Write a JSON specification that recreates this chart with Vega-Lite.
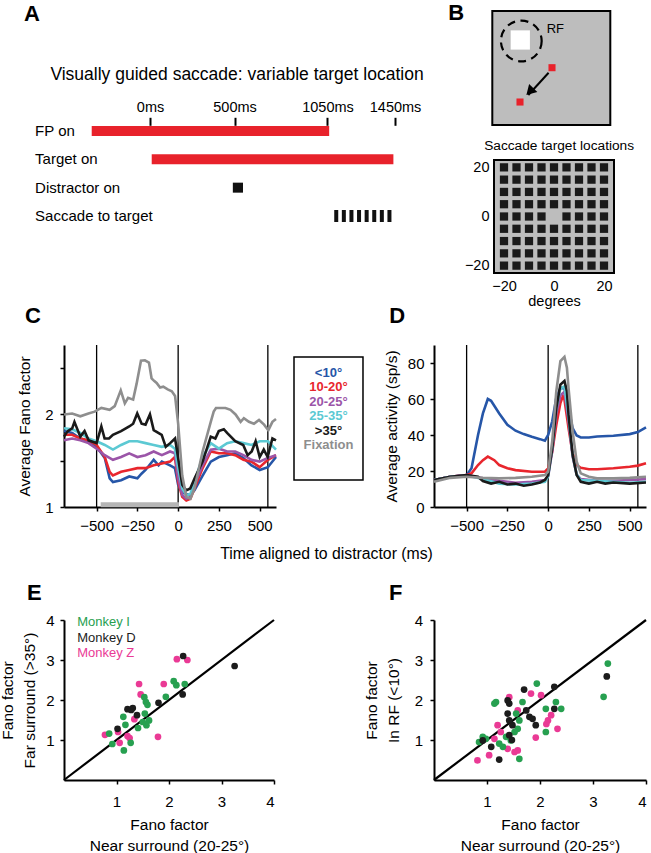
{
  "$schema": "https://vega.github.io/schema/vega-lite/v6.json",
  "background": "white",
  "padding": {"left": 0, "top": 2, "right": 0, "bottom": 0},
  "config": {
    "font": "Liberation Sans",
    "view": {"stroke": null},
    "axis": {"labelColor": "black", "titleColor": "black", "domainColor": "black", "tickColor": "black", "grid": false, "labelFontSize": 15, "titleFontSize": 15.5, "titleFontWeight": "normal", "domainWidth": 2, "tickWidth": 1.5, "tickSize": 4},
    "title": {"fontSize": 22, "fontWeight": "bold", "anchor": "start", "frame": "group", "offset": 0, "color": "black"}
  },
  "datasets": {
    "fano": [
      {"s":"<10°","t":-700,"v":1.82},{"s":"<10°","t":-650,"v":1.80},{"s":"<10°","t":-600,"v":1.74},{"s":"<10°","t":-550,"v":1.71},{"s":"<10°","t":-500,"v":1.65},{"s":"<10°","t":-450,"v":1.53},{"s":"<10°","t":-420,"v":1.31},{"s":"<10°","t":-400,"v":1.27},{"s":"<10°","t":-350,"v":1.29},{"s":"<10°","t":-300,"v":1.33},{"s":"<10°","t":-250,"v":1.31},{"s":"<10°","t":-225,"v":1.36},{"s":"<10°","t":-200,"v":1.40},{"s":"<10°","t":-150,"v":1.51},{"s":"<10°","t":-120,"v":1.45},{"s":"<10°","t":-100,"v":1.49},{"s":"<10°","t":-50,"v":1.45},{"s":"<10°","t":-20,"v":1.42},{"s":"<10°","t":0,"v":1.24},{"s":"<10°","t":25,"v":1.16},{"s":"<10°","t":50,"v":1.14},{"s":"<10°","t":75,"v":1.13},{"s":"<10°","t":100,"v":1.18},{"s":"<10°","t":150,"v":1.34},{"s":"<10°","t":200,"v":1.49},{"s":"<10°","t":250,"v":1.54},{"s":"<10°","t":300,"v":1.56},{"s":"<10°","t":350,"v":1.58},{"s":"<10°","t":400,"v":1.53},{"s":"<10°","t":450,"v":1.45},{"s":"<10°","t":500,"v":1.40},{"s":"<10°","t":550,"v":1.43},{"s":"<10°","t":600,"v":1.54},
      {"s":"10-20°","t":-700,"v":1.78},{"s":"10-20°","t":-650,"v":1.78},{"s":"10-20°","t":-600,"v":1.74},{"s":"10-20°","t":-550,"v":1.72},{"s":"10-20°","t":-500,"v":1.67},{"s":"10-20°","t":-450,"v":1.54},{"s":"10-20°","t":-420,"v":1.38},{"s":"10-20°","t":-400,"v":1.34},{"s":"10-20°","t":-350,"v":1.38},{"s":"10-20°","t":-300,"v":1.40},{"s":"10-20°","t":-250,"v":1.42},{"s":"10-20°","t":-200,"v":1.42},{"s":"10-20°","t":-150,"v":1.45},{"s":"10-20°","t":-100,"v":1.47},{"s":"10-20°","t":-50,"v":1.49},{"s":"10-20°","t":-20,"v":1.54},{"s":"10-20°","t":0,"v":1.27},{"s":"10-20°","t":25,"v":1.11},{"s":"10-20°","t":50,"v":1.07},{"s":"10-20°","t":75,"v":1.09},{"s":"10-20°","t":100,"v":1.20},{"s":"10-20°","t":150,"v":1.42},{"s":"10-20°","t":200,"v":1.60},{"s":"10-20°","t":250,"v":1.58},{"s":"10-20°","t":300,"v":1.58},{"s":"10-20°","t":350,"v":1.56},{"s":"10-20°","t":400,"v":1.51},{"s":"10-20°","t":450,"v":1.49},{"s":"10-20°","t":500,"v":1.43},{"s":"10-20°","t":550,"v":1.51},{"s":"10-20°","t":600,"v":1.56},
      {"s":"20-25°","t":-700,"v":1.72},{"s":"20-25°","t":-650,"v":1.74},{"s":"20-25°","t":-600,"v":1.72},{"s":"20-25°","t":-550,"v":1.69},{"s":"20-25°","t":-500,"v":1.63},{"s":"20-25°","t":-450,"v":1.56},{"s":"20-25°","t":-400,"v":1.51},{"s":"20-25°","t":-350,"v":1.54},{"s":"20-25°","t":-300,"v":1.58},{"s":"20-25°","t":-250,"v":1.54},{"s":"20-25°","t":-200,"v":1.56},{"s":"20-25°","t":-150,"v":1.60},{"s":"20-25°","t":-100,"v":1.56},{"s":"20-25°","t":-50,"v":1.60},{"s":"20-25°","t":-20,"v":1.58},{"s":"20-25°","t":0,"v":1.31},{"s":"20-25°","t":25,"v":1.13},{"s":"20-25°","t":50,"v":1.09},{"s":"20-25°","t":75,"v":1.11},{"s":"20-25°","t":100,"v":1.24},{"s":"20-25°","t":150,"v":1.45},{"s":"20-25°","t":200,"v":1.62},{"s":"20-25°","t":250,"v":1.63},{"s":"20-25°","t":300,"v":1.60},{"s":"20-25°","t":350,"v":1.60},{"s":"20-25°","t":400,"v":1.56},{"s":"20-25°","t":450,"v":1.51},{"s":"20-25°","t":500,"v":1.49},{"s":"20-25°","t":550,"v":1.53},{"s":"20-25°","t":600,"v":1.56},
      {"s":"25-35°","t":-700,"v":1.85},{"s":"25-35°","t":-650,"v":1.84},{"s":"25-35°","t":-600,"v":1.80},{"s":"25-35°","t":-550,"v":1.74},{"s":"25-35°","t":-500,"v":1.71},{"s":"25-35°","t":-450,"v":1.67},{"s":"25-35°","t":-400,"v":1.62},{"s":"25-35°","t":-350,"v":1.67},{"s":"25-35°","t":-300,"v":1.71},{"s":"25-35°","t":-250,"v":1.71},{"s":"25-35°","t":-200,"v":1.69},{"s":"25-35°","t":-150,"v":1.67},{"s":"25-35°","t":-100,"v":1.65},{"s":"25-35°","t":-50,"v":1.67},{"s":"25-35°","t":-20,"v":1.63},{"s":"25-35°","t":0,"v":1.42},{"s":"25-35°","t":25,"v":1.20},{"s":"25-35°","t":50,"v":1.13},{"s":"25-35°","t":75,"v":1.14},{"s":"25-35°","t":100,"v":1.27},{"s":"25-35°","t":150,"v":1.54},{"s":"25-35°","t":200,"v":1.69},{"s":"25-35°","t":250,"v":1.63},{"s":"25-35°","t":300,"v":1.69},{"s":"25-35°","t":350,"v":1.71},{"s":"25-35°","t":400,"v":1.69},{"s":"25-35°","t":450,"v":1.67},{"s":"25-35°","t":500,"v":1.71},{"s":"25-35°","t":550,"v":1.71},{"s":"25-35°","t":600,"v":1.62},
      {"s":">35°","t":-700,"v":1.76},{"s":">35°","t":-677,"v":1.82},{"s":">35°","t":-650,"v":1.85},{"s":">35°","t":-636,"v":1.92},{"s":">35°","t":-600,"v":1.76},{"s":">35°","t":-574,"v":1.82},{"s":">35°","t":-549,"v":1.72},{"s":">35°","t":-500,"v":1.69},{"s":">35°","t":-471,"v":1.87},{"s":">35°","t":-451,"v":1.74},{"s":">35°","t":-424,"v":1.74},{"s":">35°","t":-400,"v":1.78},{"s":">35°","t":-350,"v":1.82},{"s":">35°","t":-300,"v":1.87},{"s":">35°","t":-276,"v":1.90},{"s":">35°","t":-251,"v":2.01},{"s":">35°","t":-224,"v":1.90},{"s":">35°","t":-200,"v":1.89},{"s":">35°","t":-173,"v":2.00},{"s":">35°","t":-150,"v":1.83},{"s":">35°","t":-101,"v":1.78},{"s":">35°","t":-76,"v":1.65},{"s":">35°","t":-49,"v":1.69},{"s":">35°","t":-19,"v":1.74},{"s":">35°","t":0,"v":1.53},{"s":">35°","t":25,"v":1.24},{"s":">35°","t":49,"v":1.18},{"s":">35°","t":74,"v":1.20},{"s":">35°","t":101,"v":1.31},{"s":">35°","t":150,"v":1.49},{"s":">35°","t":200,"v":1.76},{"s":">35°","t":228,"v":1.74},{"s":">35°","t":249,"v":1.82},{"s":">35°","t":280,"v":1.84},{"s":">35°","t":300,"v":1.80},{"s":">35°","t":350,"v":1.71},{"s":">35°","t":399,"v":1.67},{"s":">35°","t":426,"v":1.56},{"s":">35°","t":451,"v":1.60},{"s":">35°","t":475,"v":1.71},{"s":">35°","t":500,"v":1.54},{"s":">35°","t":525,"v":1.62},{"s":">35°","t":549,"v":1.54},{"s":">35°","t":578,"v":1.74},{"s":">35°","t":600,"v":1.72},
      {"s":"Fixation","t":-700,"v":2.00},{"s":"Fixation","t":-650,"v":2.01},{"s":"Fixation","t":-600,"v":1.98},{"s":"Fixation","t":-550,"v":2.01},{"s":"Fixation","t":-512,"v":2.03},{"s":"Fixation","t":-471,"v":2.07},{"s":"Fixation","t":-420,"v":2.05},{"s":"Fixation","t":-389,"v":2.09},{"s":"Fixation","t":-352,"v":2.26},{"s":"Fixation","t":-327,"v":2.12},{"s":"Fixation","t":-307,"v":2.18},{"s":"Fixation","t":-276,"v":2.16},{"s":"Fixation","t":-255,"v":2.33},{"s":"Fixation","t":-228,"v":2.58},{"s":"Fixation","t":-204,"v":2.585},{"s":"Fixation","t":-179,"v":2.56},{"s":"Fixation","t":-163,"v":2.39},{"s":"Fixation","t":-146,"v":2.36},{"s":"Fixation","t":-132,"v":2.34},{"s":"Fixation","t":-111,"v":2.29},{"s":"Fixation","t":-91,"v":2.30},{"s":"Fixation","t":-64,"v":2.27},{"s":"Fixation","t":-39,"v":2.25},{"s":"Fixation","t":-19,"v":2.20},{"s":"Fixation","t":0,"v":1.90},{"s":"Fixation","t":25,"v":1.34},{"s":"Fixation","t":50,"v":1.11},{"s":"Fixation","t":75,"v":1.09},{"s":"Fixation","t":100,"v":1.20},{"s":"Fixation","t":150,"v":1.60},{"s":"Fixation","t":200,"v":1.92},{"s":"Fixation","t":218,"v":2.03},{"s":"Fixation","t":232,"v":2.07},{"s":"Fixation","t":265,"v":2.07},{"s":"Fixation","t":290,"v":2.07},{"s":"Fixation","t":321,"v":2.05},{"s":"Fixation","t":352,"v":2.00},{"s":"Fixation","t":383,"v":1.92},{"s":"Fixation","t":403,"v":1.96},{"s":"Fixation","t":434,"v":1.92},{"s":"Fixation","t":465,"v":1.90},{"s":"Fixation","t":496,"v":1.94},{"s":"Fixation","t":527,"v":1.89},{"s":"Fixation","t":553,"v":1.83},{"s":"Fixation","t":578,"v":1.92},{"s":"Fixation","t":600,"v":1.95}
    ],
    "rate": [
      {"s":"<10°","t":-700,"v":15},{"s":"<10°","t":-600,"v":16.8},{"s":"<10°","t":-500,"v":17.7},{"s":"<10°","t":-470,"v":21.5},{"s":"<10°","t":-430,"v":40},{"s":"<10°","t":-400,"v":52},{"s":"<10°","t":-370,"v":60},{"s":"<10°","t":-350,"v":59},{"s":"<10°","t":-300,"v":52},{"s":"<10°","t":-250,"v":45.7},{"s":"<10°","t":-200,"v":42.4},{"s":"<10°","t":-150,"v":40.5},{"s":"<10°","t":-100,"v":39},{"s":"<10°","t":-50,"v":37.7},{"s":"<10°","t":-20,"v":36.8},{"s":"<10°","t":0,"v":40},{"s":"<10°","t":25,"v":47.6},{"s":"<10°","t":50,"v":60.6},{"s":"<10°","t":75,"v":66},{"s":"<10°","t":100,"v":66},{"s":"<10°","t":125,"v":55},{"s":"<10°","t":150,"v":43.8},{"s":"<10°","t":175,"v":39.7},{"s":"<10°","t":200,"v":38.6},{"s":"<10°","t":250,"v":38.6},{"s":"<10°","t":300,"v":39.2},{"s":"<10°","t":400,"v":39.6},{"s":"<10°","t":500,"v":40.5},{"s":"<10°","t":550,"v":41.6},{"s":"<10°","t":600,"v":44.2},
      {"s":"10-20°","t":-700,"v":15},{"s":"10-20°","t":-600,"v":16.8},{"s":"10-20°","t":-500,"v":17.7},{"s":"10-20°","t":-470,"v":18.7},{"s":"10-20°","t":-430,"v":23.3},{"s":"10-20°","t":-400,"v":26},{"s":"10-20°","t":-370,"v":28},{"s":"10-20°","t":-330,"v":26},{"s":"10-20°","t":-300,"v":23.3},{"s":"10-20°","t":-250,"v":21.5},{"s":"10-20°","t":-200,"v":20.5},{"s":"10-20°","t":-100,"v":19.6},{"s":"10-20°","t":-20,"v":19.6},{"s":"10-20°","t":0,"v":21.5},{"s":"10-20°","t":25,"v":30.8},{"s":"10-20°","t":50,"v":45.7},{"s":"10-20°","t":75,"v":57.8},{"s":"10-20°","t":90,"v":61.5},{"s":"10-20°","t":100,"v":59.7},{"s":"10-20°","t":125,"v":43.8},{"s":"10-20°","t":150,"v":29.9},{"s":"10-20°","t":175,"v":23.3},{"s":"10-20°","t":200,"v":21.8},{"s":"10-20°","t":250,"v":21},{"s":"10-20°","t":300,"v":21},{"s":"10-20°","t":400,"v":21.5},{"s":"10-20°","t":500,"v":22.4},{"s":"10-20°","t":550,"v":23},{"s":"10-20°","t":600,"v":24.3},
      {"s":"20-25°","t":-700,"v":15},{"s":"20-25°","t":-600,"v":16.8},{"s":"20-25°","t":-500,"v":17.7},{"s":"20-25°","t":-400,"v":16},{"s":"20-25°","t":-300,"v":14.5},{"s":"20-25°","t":-200,"v":13.5},{"s":"20-25°","t":-100,"v":14},{"s":"20-25°","t":-20,"v":15},{"s":"20-25°","t":0,"v":17},{"s":"20-25°","t":25,"v":31},{"s":"20-25°","t":50,"v":52},{"s":"20-25°","t":75,"v":62},{"s":"20-25°","t":100,"v":64},{"s":"20-25°","t":125,"v":48},{"s":"20-25°","t":150,"v":28},{"s":"20-25°","t":175,"v":18},{"s":"20-25°","t":200,"v":15.5},{"s":"20-25°","t":300,"v":14.5},{"s":"20-25°","t":400,"v":14.5},{"s":"20-25°","t":500,"v":15},{"s":"20-25°","t":600,"v":15.5},
      {"s":"25-35°","t":-700,"v":15},{"s":"25-35°","t":-600,"v":16.8},{"s":"25-35°","t":-500,"v":17.5},{"s":"25-35°","t":-400,"v":15.5},{"s":"25-35°","t":-300,"v":13},{"s":"25-35°","t":-200,"v":12.5},{"s":"25-35°","t":-100,"v":13},{"s":"25-35°","t":-20,"v":14},{"s":"25-35°","t":0,"v":17},{"s":"25-35°","t":25,"v":33},{"s":"25-35°","t":50,"v":55},{"s":"25-35°","t":75,"v":66},{"s":"25-35°","t":100,"v":67},{"s":"25-35°","t":125,"v":50},{"s":"25-35°","t":150,"v":29},{"s":"25-35°","t":175,"v":18},{"s":"25-35°","t":200,"v":15},{"s":"25-35°","t":300,"v":14.5},{"s":"25-35°","t":400,"v":14},{"s":"25-35°","t":500,"v":13.5},{"s":"25-35°","t":600,"v":14},
      {"s":">35°","t":-700,"v":15},{"s":">35°","t":-600,"v":16.8},{"s":">35°","t":-500,"v":17.7},{"s":">35°","t":-430,"v":16.8},{"s":">35°","t":-400,"v":14.4},{"s":">35°","t":-350,"v":13},{"s":">35°","t":-300,"v":14},{"s":">35°","t":-250,"v":12.5},{"s":">35°","t":-200,"v":13},{"s":">35°","t":-150,"v":11.8},{"s":">35°","t":-100,"v":12.5},{"s":">35°","t":-50,"v":13.6},{"s":">35°","t":-20,"v":15},{"s":">35°","t":0,"v":17.7},{"s":">35°","t":25,"v":32.6},{"s":">35°","t":50,"v":55},{"s":">35°","t":75,"v":68},{"s":">35°","t":100,"v":70},{"s":">35°","t":115,"v":64.4},{"s":">35°","t":125,"v":51.3},{"s":">35°","t":150,"v":29},{"s":">35°","t":175,"v":17.7},{"s":">35°","t":200,"v":14},{"s":">35°","t":250,"v":13},{"s":">35°","t":300,"v":14},{"s":">35°","t":350,"v":13},{"s":">35°","t":400,"v":13.6},{"s":">35°","t":500,"v":13},{"s":">35°","t":600,"v":13.6},
      {"s":"Fixation","t":-700,"v":14},{"s":"Fixation","t":-600,"v":16.2},{"s":"Fixation","t":-500,"v":16.8},{"s":"Fixation","t":-400,"v":16.2},{"s":"Fixation","t":-300,"v":15.9},{"s":"Fixation","t":-200,"v":16.2},{"s":"Fixation","t":-100,"v":16.8},{"s":"Fixation","t":-20,"v":17.7},{"s":"Fixation","t":0,"v":19.6},{"s":"Fixation","t":25,"v":36.4},{"s":"Fixation","t":50,"v":64.4},{"s":"Fixation","t":75,"v":81},{"s":"Fixation","t":100,"v":83.4},{"s":"Fixation","t":115,"v":77.4},{"s":"Fixation","t":125,"v":66},{"s":"Fixation","t":150,"v":42},{"s":"Fixation","t":175,"v":25.2},{"s":"Fixation","t":200,"v":18.7},{"s":"Fixation","t":250,"v":16.8},{"s":"Fixation","t":300,"v":15.9},{"s":"Fixation","t":400,"v":15.9},{"s":"Fixation","t":500,"v":16.2},{"s":"Fixation","t":600,"v":16.8}
    ]
  },
  "concat": [
    {
      "width": 212, "height": 262,
      "title": {"text": "A", "dx": -40, "dy": 19},
      "data": {"values": [
        {"event": "FP on", "row": 1, "start": -345, "end": 1060, "kind": "bar"},
        {"event": "Target on", "row": 2, "start": 10, "end": 1440, "kind": "bar"},
        {"event": "Distractor on", "row": 3, "start": 490, "end": 550, "kind": "square"},
        {"event": "Saccade to target", "row": 4, "start": 1090, "end": 1430, "kind": "dash"}
      ]},
      "encoding": {
        "x": {"field": "start", "type": "quantitative", "scale": {"domain": [-509, 1698], "range": [0, 373], "nice": false, "zero": false},
          "axis": {"orient": "top", "offset": -114.3, "values": [0, 500, 1050, 1450], "labelExpr": "datum.value + 'ms'", "domain": false, "tickSize": 8, "tickWidth": 2, "labelPadding": 3, "labelFontSize": 14.5, "labelOverlap": false, "labelBound": false, "title": "Visually guided saccade: variable target location", "titleFontSize": 17.5, "titlePadding": 16, "titleX": 172.5, "titleAlign": "center"}},
        "y": {"field": "row", "type": "quantitative", "scale": {"domain": [-3.2357, 6.0123], "reverse": true, "nice": false, "zero": false}, "axis": null}
      },
      "layer": [
        {"transform": [{"filter": "datum.kind === 'bar'"}], "mark": {"type": "rule", "strokeWidth": 10, "strokeCap": "butt", "color": "#e8222b"}, "encoding": {"x2": {"field": "end"}}},
        {"transform": [{"filter": "datum.kind === 'square'"}], "mark": {"type": "rule", "strokeWidth": 10, "strokeCap": "butt", "color": "#111111"}, "encoding": {"x2": {"field": "end"}}},
        {"transform": [{"filter": "datum.kind === 'dash'"}], "mark": {"type": "rule", "strokeWidth": 12, "strokeCap": "butt", "strokeDash": [4, 3.6], "color": "#111111"}, "encoding": {"x2": {"field": "end"}}},
        {"mark": {"type": "text", "align": "left", "baseline": "middle", "fontSize": 15, "color": "black"}, "encoding": {"x": {"datum": -680, "type": "quantitative"}, "text": {"field": "event"}}}
      ]
    },
    {"width": 1, "height": 1, "data": {"values": [{"a": 0}]}, "mark": {"type": "point", "opacity": 0}, "encoding": {"x": {"field": "a", "type": "quantitative", "axis": null}, "y": {"field": "a", "type": "quantitative", "axis": null}}},
    {
      "width": 212, "height": 262,
      "title": {"text": "B", "dx": 14.3, "dy": 19},
      "data": {"values": [
        {"kind": "box", "x": -24.68, "x2": 22.52, "y": 37.25, "y2": 83.65},
        {"kind": "box", "x": -24, "x2": 24, "y": -23, "y2": 23},
        {"kind": "rf", "x": -13.08, "y": 71.44},
        {"kind": "stim", "x": -13.48, "y": 71.85},
        {"kind": "target", "x": -0.8, "y": 60.57},
        {"kind": "target", "x": -13.6, "y": 46.6},
        {"kind": "arrow", "x": -2.16, "y": 58.53, "x2": -10.28, "y2": 49.45},
        {"kind": "head", "x": -9.68, "y": 50.88},
        {"kind": "label", "x": 0.52, "y": 76.32, "text": "RF", "size": 13},
        {"kind": "label", "x": 2.04, "y": 28.9, "text": "Saccade target locations", "size": 13.7},
        {"kind":"loc","x":-20,"y":20},{"kind":"loc","x":-15,"y":20},{"kind":"loc","x":-10,"y":20},{"kind":"loc","x":-5,"y":20},{"kind":"loc","x":0,"y":20},{"kind":"loc","x":5,"y":20},{"kind":"loc","x":10,"y":20},{"kind":"loc","x":15,"y":20},{"kind":"loc","x":20,"y":20},
        {"kind":"loc","x":-20,"y":15},{"kind":"loc","x":-15,"y":15},{"kind":"loc","x":-10,"y":15},{"kind":"loc","x":-5,"y":15},{"kind":"loc","x":0,"y":15},{"kind":"loc","x":5,"y":15},{"kind":"loc","x":10,"y":15},{"kind":"loc","x":15,"y":15},{"kind":"loc","x":20,"y":15},
        {"kind":"loc","x":-20,"y":10},{"kind":"loc","x":-15,"y":10},{"kind":"loc","x":-10,"y":10},{"kind":"loc","x":-5,"y":10},{"kind":"loc","x":0,"y":10},{"kind":"loc","x":5,"y":10},{"kind":"loc","x":10,"y":10},{"kind":"loc","x":15,"y":10},{"kind":"loc","x":20,"y":10},
        {"kind":"loc","x":-20,"y":5},{"kind":"loc","x":-15,"y":5},{"kind":"loc","x":-10,"y":5},{"kind":"loc","x":-5,"y":5},{"kind":"loc","x":0,"y":5},{"kind":"loc","x":5,"y":5},{"kind":"loc","x":10,"y":5},{"kind":"loc","x":15,"y":5},{"kind":"loc","x":20,"y":5},
        {"kind":"loc","x":-20,"y":0},{"kind":"loc","x":-15,"y":0},{"kind":"loc","x":-10,"y":0},{"kind":"loc","x":-5,"y":0},{"kind":"loc","x":5,"y":0},{"kind":"loc","x":10,"y":0},{"kind":"loc","x":15,"y":0},{"kind":"loc","x":20,"y":0},
        {"kind":"loc","x":-20,"y":-5},{"kind":"loc","x":-15,"y":-5},{"kind":"loc","x":-10,"y":-5},{"kind":"loc","x":-5,"y":-5},{"kind":"loc","x":0,"y":-5},{"kind":"loc","x":5,"y":-5},{"kind":"loc","x":10,"y":-5},{"kind":"loc","x":15,"y":-5},{"kind":"loc","x":20,"y":-5},
        {"kind":"loc","x":-20,"y":-10},{"kind":"loc","x":-15,"y":-10},{"kind":"loc","x":-10,"y":-10},{"kind":"loc","x":-5,"y":-10},{"kind":"loc","x":0,"y":-10},{"kind":"loc","x":5,"y":-10},{"kind":"loc","x":10,"y":-10},{"kind":"loc","x":15,"y":-10},{"kind":"loc","x":20,"y":-10},
        {"kind":"loc","x":-20,"y":-15},{"kind":"loc","x":-15,"y":-15},{"kind":"loc","x":-10,"y":-15},{"kind":"loc","x":-5,"y":-15},{"kind":"loc","x":0,"y":-15},{"kind":"loc","x":5,"y":-15},{"kind":"loc","x":10,"y":-15},{"kind":"loc","x":15,"y":-15},{"kind":"loc","x":20,"y":-15},
        {"kind":"loc","x":-20,"y":-20},{"kind":"loc","x":-15,"y":-20},{"kind":"loc","x":-10,"y":-20},{"kind":"loc","x":-5,"y":-20},{"kind":"loc","x":0,"y":-20},{"kind":"loc","x":5,"y":-20},{"kind":"loc","x":10,"y":-20},{"kind":"loc","x":15,"y":-20},{"kind":"loc","x":20,"y":-20}
      ]},
      "encoding": {
        "x": {"field": "x", "type": "quantitative", "scale": {"domain": [-48, 36.8], "nice": false, "zero": false}, "axis": {"values": [-20, 0, 20], "ticks": false, "domain": false, "labelPadding": 6, "labelFontSize": 14.5, "title": "degrees", "titleFontSize": 14.5, "titlePadding": 2, "titleX": 120, "titleAlign": "center"}},
        "y": {"field": "y", "type": "quantitative", "scale": {"domain": [-23, 83.65], "nice": false, "zero": false}, "axis": {"values": [-20, 0, 20], "offset": -60, "ticks": false, "domain": false, "labelPadding": 5, "labelFontSize": 14.5, "title": null}}
      },
      "layer": [
        {"transform": [{"filter": "datum.kind === 'box'"}], "mark": {"type": "rect", "fill": "#bdbdbd", "stroke": "black", "strokeWidth": 2}, "encoding": {"x2": {"field": "x2"}, "y2": {"field": "y2"}}},
        {"transform": [{"filter": "datum.kind === 'loc'"}], "mark": {"type": "square", "size": 68, "color": "#1a1a1a", "opacity": 1}},
        {"transform": [{"filter": "datum.kind === 'rf'"}], "mark": {"type": "point", "shape": "circle", "size": 1660, "filled": false, "stroke": "black", "strokeWidth": 2.2, "strokeDash": [8, 5.5], "opacity": 1}},
        {"transform": [{"filter": "datum.kind === 'stim'"}], "mark": {"type": "square", "size": 370, "color": "white", "opacity": 1}},
        {"transform": [{"filter": "datum.kind === 'target'"}], "mark": {"type": "square", "size": 50, "color": "#e8222b", "opacity": 1}},
        {"transform": [{"filter": "datum.kind === 'arrow'"}], "mark": {"type": "rule", "strokeWidth": 2, "color": "black"}, "encoding": {"x2": {"field": "x2"}, "y2": {"field": "y2"}}},
        {"transform": [{"filter": "datum.kind === 'head'"}], "mark": {"type": "point", "shape": "triangle-up", "size": 130, "filled": true, "color": "black", "angle": 224, "opacity": 1}},
        {"transform": [{"filter": "datum.kind === 'label'"}], "mark": {"type": "text", "align": "center", "baseline": "middle", "color": "black"}, "encoding": {"text": {"field": "text"}, "size": {"field": "size", "type": "quantitative", "scale": null}}}
      ]
    },
    {
      "width": 212, "height": 162,
      "title": {"text": "C", "dx": -39, "dy": -12.5},
      "encoding": {
        "x": {"field": "t", "type": "quantitative", "scale": {"domain": [-700, 600], "nice": false, "zero": false},
          "axis": {"values": [-500, -250, 0, 250, 500], "labelPadding": 7, "title": "Time aligned to distractor (ms)", "titleFontSize": 15.8, "titleX": 262, "titleAlign": "center", "titlePadding": 13}}
      },
      "layer": [
        {"data": {"values": [{"t": -500}, {"t": 0}, {"t": 550}]}, "mark": {"type": "rule", "strokeWidth": 1.3, "color": "black"}},
        {"data": {"values": [{"t": -475, "t2": 5, "v": 1.025}]}, "mark": {"type": "rule", "strokeWidth": 5, "color": "#b5b5b5", "strokeCap": "butt"},
          "encoding": {"x2": {"field": "t2"}, "y": {"field": "v", "type": "quantitative", "scale": {"domain": [1, 2.75], "nice": false, "zero": false}, "axis": {"values": [1, 1.5, 2, 2.5], "labelExpr": "datum.value === 1 ? '1' : datum.value === 2 ? '2' : ''", "labelPadding": 7, "title": "Average Fano factor", "titlePadding": 12}}}},
        {"data": {"name": "fano"}, "mark": {"type": "line", "strokeWidth": 2.6},
          "encoding": {
            "y": {"field": "v", "type": "quantitative", "scale": {"domain": [1, 2.75], "nice": false, "zero": false}, "axis": {"values": [1, 1.5, 2, 2.5], "labelExpr": "datum.value === 1 ? '1' : datum.value === 2 ? '2' : ''", "labelPadding": 7, "title": "Average Fano factor", "titlePadding": 12}},
            "color": {"field": "s", "type": "nominal", "scale": {"domain": ["<10°", "10-20°", "20-25°", "25-35°", ">35°", "Fixation"], "range": ["#2656a8", "#e8262d", "#9b55a8", "#5cc9d3", "#1a1a1a", "#8e8e8e"]}, "legend": null}
          }}
      ]
    },
    {
      "width": 137.7, "height": 203,
      "layer": [
        {"data": {"values": [{"x": 0, "x2": 1, "y": -1.11, "y2": 7.43}]}, "mark": {"type": "rect", "fillOpacity": 0, "stroke": "black", "strokeWidth": 1.5},
          "encoding": {
            "x": {"field": "x", "type": "quantitative", "scale": {"domain": [-0.116, 1.88], "nice": false, "zero": false}, "axis": null},
            "x2": {"field": "x2"},
            "y": {"field": "y", "type": "quantitative", "scale": {"domain": [-1.944, 12.153], "reverse": true, "nice": false, "zero": false}, "axis": null},
            "y2": {"field": "y2"}
          }},
        {"data": {"values": [{"s": "<10°", "i": 0}, {"s": "10-20°", "i": 1}, {"s": "20-25°", "i": 2}, {"s": "25-35°", "i": 3}, {"s": ">35°", "i": 4}, {"s": "Fixation", "i": 5}]},
          "mark": {"type": "text", "fontWeight": "bold", "fontSize": 13, "baseline": "middle", "align": "center"},
          "encoding": {
            "x": {"datum": 0.5, "type": "quantitative", "scale": {"domain": [-0.116, 1.88], "nice": false, "zero": false}, "axis": null},
            "y": {"field": "i", "type": "quantitative", "scale": {"domain": [-1.944, 12.153], "reverse": true, "nice": false, "zero": false}, "axis": null},
            "text": {"field": "s"},
            "color": {"field": "s", "type": "nominal", "scale": {"domain": ["<10°", "10-20°", "20-25°", "25-35°", ">35°", "Fixation"], "range": ["#2656a8", "#e8262d", "#9b55a8", "#5cc9d3", "#1a1a1a", "#8e8e8e"]}, "legend": null}
          }}
      ]
    },
    {
      "width": 212, "height": 162,
      "title": {"text": "D", "dx": -44.7, "dy": -12.5},
      "encoding": {
        "x": {"field": "t", "type": "quantitative", "scale": {"domain": [-700, 600], "nice": false, "zero": false},
          "axis": {"values": [-500, -250, 0, 250, 500], "labelPadding": 7, "title": null}}
      },
      "layer": [
        {"data": {"values": [{"t": -500}, {"t": 0}, {"t": 550}]}, "mark": {"type": "rule", "strokeWidth": 1.3, "color": "black"}},
        {"data": {"name": "rate"}, "mark": {"type": "line", "strokeWidth": 2.6},
          "encoding": {
            "y": {"field": "v", "type": "quantitative", "scale": {"domain": [0, 90], "nice": false}, "axis": {"values": [0, 20, 40, 60, 80], "labelPadding": 6, "title": "Average activity (sp/s)", "titlePadding": 8}},
            "color": {"field": "s", "type": "nominal", "scale": {"domain": ["<10°", "10-20°", "20-25°", "25-35°", ">35°", "Fixation"], "range": ["#2656a8", "#e8262d", "#9b55a8", "#5cc9d3", "#1a1a1a", "#8e8e8e"]}, "legend": null}
          }}
      ]
    },
    {
      "width": 210, "height": 160,
      "title": {"text": "E", "dx": -37, "dy": -3.6},
      "encoding": {
        "x": {"field": "x", "type": "quantitative", "scale": {"domain": [0, 4], "nice": false}, "axis": {"values": [1, 2, 3, 4], "labelPadding": 10, "title": ["Fano factor", "Near surround (20-25°)"], "titleLineHeight": 21, "titlePadding": 8}},
        "y": {"field": "y", "type": "quantitative", "scale": {"domain": [0, 4], "nice": false}, "axis": {"values": [1, 2, 3, 4], "labelPadding": 6, "title": ["Fano factor", "Far surround (>35°)"], "titleLineHeight": 22, "titlePadding": 8.5}}
      },
      "layer": [
        {"data": {"values": [{"x": 0, "y": 0}, {"x": 4, "y": 4}]}, "mark": {"type": "line", "color": "black", "strokeWidth": 2.2}, "encoding": {}},
        {"data": {"values": [
          {"m":"Monkey Z","x":2.15,"y":3.02},{"m":"Monkey Z","x":2.35,"y":3.0},{"m":"Monkey Z","x":1.43,"y":2.4},{"m":"Monkey Z","x":1.9,"y":2.4},{"m":"Monkey Z","x":1.46,"y":2.14},{"m":"Monkey Z","x":1.34,"y":1.52},{"m":"Monkey Z","x":0.78,"y":1.13},{"m":"Monkey Z","x":1.03,"y":1.2},{"m":"Monkey Z","x":1.21,"y":1.1},{"m":"Monkey Z","x":1.79,"y":1.08},{"m":"Monkey Z","x":1.06,"y":0.93},{"m":"Monkey Z","x":1.25,"y":1.05},
          {"m":"Monkey I","x":2.09,"y":2.47},{"m":"Monkey I","x":2.14,"y":2.37},{"m":"Monkey I","x":2.3,"y":2.4},{"m":"Monkey I","x":1.53,"y":2.07},{"m":"Monkey I","x":1.59,"y":1.88},{"m":"Monkey I","x":1.94,"y":2.08},{"m":"Monkey I","x":1.13,"y":1.58},{"m":"Monkey I","x":1.54,"y":1.66},{"m":"Monkey I","x":1.62,"y":1.49},{"m":"Monkey I","x":1.17,"y":1.38},{"m":"Monkey I","x":1.41,"y":1.3},{"m":"Monkey I","x":1.57,"y":1.37},{"m":"Monkey I","x":0.86,"y":1.16},{"m":"Monkey I","x":0.92,"y":0.9},{"m":"Monkey I","x":1.27,"y":0.93},{"m":"Monkey I","x":1.14,"y":0.74},{"m":"Monkey I","x":1.5,"y":1.45},{"m":"Monkey I","x":1.56,"y":1.95},
          {"m":"Monkey D","x":2.27,"y":3.1},{"m":"Monkey D","x":3.25,"y":2.85},{"m":"Monkey D","x":2.26,"y":2.14},{"m":"Monkey D","x":1.8,"y":1.93},{"m":"Monkey D","x":1.21,"y":1.77},{"m":"Monkey D","x":1.31,"y":1.8},{"m":"Monkey D","x":1.39,"y":1.62},{"m":"Monkey D","x":1.02,"y":1.28},{"m":"Monkey D","x":1.28,"y":1.75}
        ]}, "mark": {"type": "circle", "size": 45, "opacity": 1},
          "encoding": {"color": {"field": "m", "type": "nominal", "scale": {"domain": ["Monkey I", "Monkey D", "Monkey Z"], "range": ["#27a050", "#1c1c1c", "#ea3a95"]}, "legend": null}}},
        {"data": {"values": [{"m": "Monkey I", "x": 0.25, "y": 3.94}, {"m": "Monkey D", "x": 0.25, "y": 3.56}, {"m": "Monkey Z", "x": 0.25, "y": 3.17}]},
          "mark": {"type": "text", "align": "left", "baseline": "middle", "fontSize": 13},
          "encoding": {"text": {"field": "m"}, "color": {"field": "m", "type": "nominal", "scale": {"domain": ["Monkey I", "Monkey D", "Monkey Z"], "range": ["#27a050", "#1c1c1c", "#ea3a95"]}, "legend": null}}}
      ]
    },
    {"width": 1, "height": 1, "data": {"values": [{"a": 0}]}, "mark": {"type": "point", "opacity": 0}, "encoding": {"x": {"field": "a", "type": "quantitative", "axis": null}, "y": {"field": "a", "type": "quantitative", "axis": null}}},
    {
      "width": 212, "height": 160,
      "title": {"text": "F", "dx": -45, "dy": -3.6},
      "encoding": {
        "x": {"field": "x", "type": "quantitative", "scale": {"domain": [0, 4], "nice": false}, "axis": {"values": [1, 2, 3, 4], "labelPadding": 10, "title": ["Fano factor", "Near surround (20-25°)"], "titleLineHeight": 21, "titlePadding": 8}},
        "y": {"field": "y", "type": "quantitative", "scale": {"domain": [0, 4], "nice": false}, "axis": {"values": [1, 2, 3, 4], "labelPadding": 7.5, "title": ["Fano factor", "In  RF (<10°)"], "titleLineHeight": 22, "titlePadding": 13}}
      },
      "layer": [
        {"data": {"values": [{"x": 0, "y": 0}, {"x": 4, "y": 4}]}, "mark": {"type": "line", "color": "black", "strokeWidth": 2.2}, "encoding": {}},
        {"data": {"values": [
          {"m":"Monkey Z","x":1.83,"y":2.16},{"m":"Monkey Z","x":2.02,"y":2.12},{"m":"Monkey Z","x":1.42,"y":2.07},{"m":"Monkey Z","x":1.58,"y":1.74},{"m":"Monkey Z","x":2.21,"y":1.62},{"m":"Monkey Z","x":2.15,"y":1.49},{"m":"Monkey Z","x":2.33,"y":1.28},{"m":"Monkey Z","x":1.92,"y":1.06},{"m":"Monkey Z","x":1.2,"y":1.37},{"m":"Monkey Z","x":1.26,"y":1.2},{"m":"Monkey Z","x":1.14,"y":1.03},{"m":"Monkey Z","x":1.04,"y":0.62},{"m":"Monkey Z","x":0.82,"y":0.49},{"m":"Monkey Z","x":1.39,"y":0.78},{"m":"Monkey Z","x":1.52,"y":0.7},{"m":"Monkey Z","x":1.58,"y":0.74},{"m":"Monkey Z","x":2.12,"y":1.4},
          {"m":"Monkey I","x":1.94,"y":2.41},{"m":"Monkey I","x":1.17,"y":1.95},{"m":"Monkey I","x":1.67,"y":1.95},{"m":"Monkey I","x":2.11,"y":1.78},{"m":"Monkey I","x":2.3,"y":1.95},{"m":"Monkey I","x":2.4,"y":1.78},{"m":"Monkey I","x":2.11,"y":1.2},{"m":"Monkey I","x":1.55,"y":1.66},{"m":"Monkey I","x":1.61,"y":1.49},{"m":"Monkey I","x":1.58,"y":1.28},{"m":"Monkey I","x":1.52,"y":1.2},{"m":"Monkey I","x":1.36,"y":1.08},{"m":"Monkey I","x":1.45,"y":0.99},{"m":"Monkey I","x":0.92,"y":1.08},{"m":"Monkey I","x":0.98,"y":1.03},{"m":"Monkey I","x":0.85,"y":0.95},{"m":"Monkey I","x":1.23,"y":0.91},{"m":"Monkey I","x":1.3,"y":0.83},{"m":"Monkey I","x":1.61,"y":0.53},{"m":"Monkey I","x":3.28,"y":2.91},{"m":"Monkey I","x":3.2,"y":2.08},{"m":"Monkey I","x":1.14,"y":1.91},
          {"m":"Monkey D","x":1.7,"y":2.26},{"m":"Monkey D","x":2.27,"y":2.33},{"m":"Monkey D","x":1.39,"y":1.99},{"m":"Monkey D","x":1.42,"y":1.91},{"m":"Monkey D","x":1.74,"y":1.74},{"m":"Monkey D","x":1.39,"y":1.66},{"m":"Monkey D","x":1.42,"y":1.49},{"m":"Monkey D","x":1.48,"y":1.37},{"m":"Monkey D","x":1.8,"y":1.58},{"m":"Monkey D","x":1.86,"y":1.53},{"m":"Monkey D","x":1.92,"y":1.37},{"m":"Monkey D","x":1.42,"y":1.12},{"m":"Monkey D","x":0.92,"y":0.99},{"m":"Monkey D","x":1.08,"y":0.83},{"m":"Monkey D","x":1.23,"y":0.51},{"m":"Monkey D","x":3.26,"y":2.59},{"m":"Monkey D","x":2.27,"y":1.78},{"m":"Monkey D","x":1.47,"y":1.0}
        ]}, "mark": {"type": "circle", "size": 45, "opacity": 1},
          "encoding": {"color": {"field": "m", "type": "nominal", "scale": {"domain": ["Monkey I", "Monkey D", "Monkey Z"], "range": ["#27a050", "#1c1c1c", "#ea3a95"]}, "legend": null}}}
      ]
    }
  ],
  "columns": 3,
  "align": "each",
  "bounds": "flush",
  "spacing": {"row": 72, "column": 10},
  "resolve": {"scale": {"color": "independent"}}
}
